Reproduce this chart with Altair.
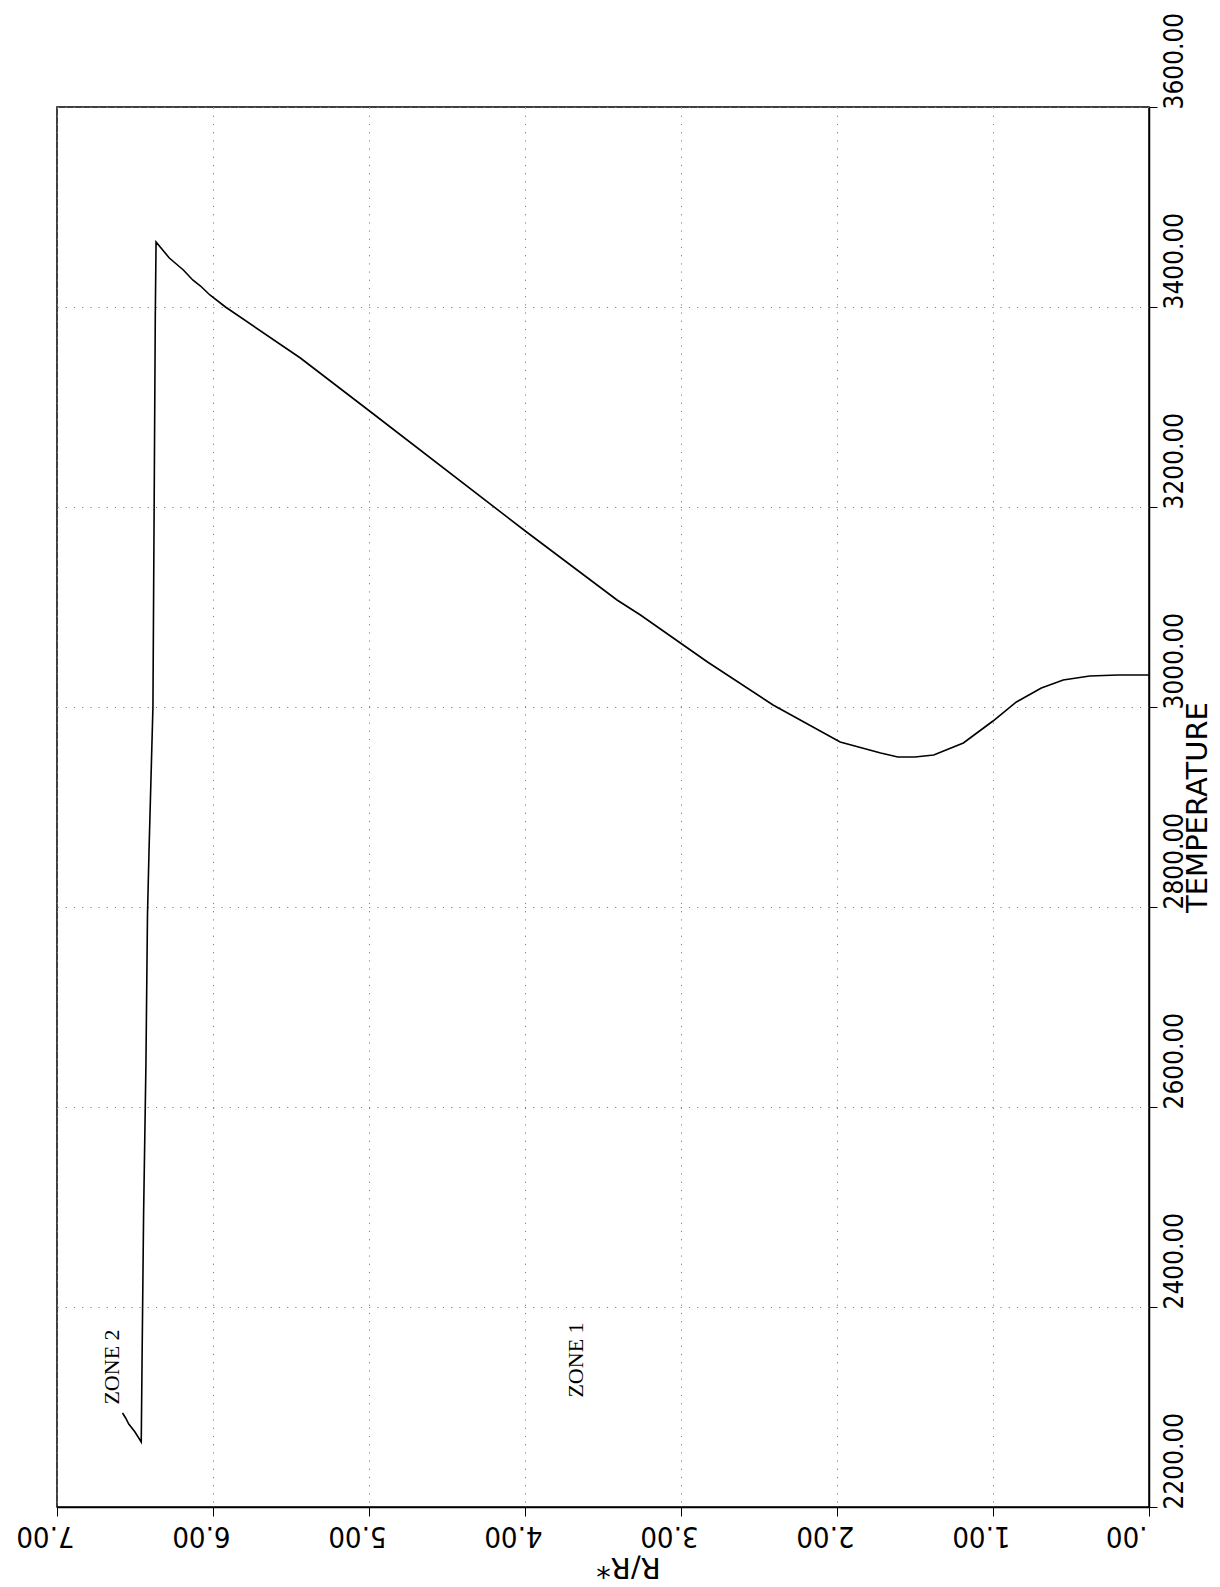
import altair as alt
import pandas as pd

# Temperature profile vs R/R*
r_vals = [0.00, 0.20, 0.38, 0.55, 0.69, 0.85, 1.00, 1.19, 1.38, 1.50, 1.61, 1.72,
          1.98, 2.41, 2.83, 3.26, 3.41, 3.99, 4.98, 5.44, 5.92, 6.02, 6.08, 6.13,
          6.19, 6.28, 6.365,
          6.37, 6.385, 6.41, 6.42, 6.43, 6.445, 6.455, 6.46,
          6.50, 6.54, 6.56, 6.58]
t_vals = [3032, 3032, 3031, 3027, 3019, 3005, 2986, 2964, 2952, 2950, 2950, 2954,
          2965, 3002, 3045, 3092, 3107, 3175, 3294, 3349, 3400, 3412, 3421, 3427,
          3437, 3449, 3465,
          3390, 3000, 2857, 2792, 2642, 2492, 2342, 2265,
          2275, 2283, 2289, 2294]

r_ticks = [0, 1, 2, 3, 4, 5, 6, 7]
t_ticks = [2200, 2400, 2600, 2800, 3000, 3200, 3400, 3600]

zone_labels = ["ZONE 2", "ZONE 1"]
zone_r = [6.65, 3.67]
zone_t = [2340, 2347]

df = pd.DataFrame({"r": r_vals, "t": t_vals, "i": list(range(len(r_vals)))})
zdf = pd.DataFrame({"r": zone_r, "t": zone_t, "label": zone_labels})

FONT = "DejaVu Sans Condensed, DejaVu Sans"
TFONT = "DejaVu Sans"

x_enc = alt.X(
    "r:Q",
    scale=alt.Scale(domain=[0, 7], reverse=True, nice=False, zero=False),
    axis=alt.Axis(
        values=r_ticks,
        labelExpr="datum.value == 0 ? '.00' : format(datum.value, '.2f')",
        labelAngle=180,
        labelAlign="left",
        labelBaseline="bottom",
        labelFont=FONT,
        labelFontSize=29,
        labelColor="black",
        labelPadding=4,
        labelFlush=False,
        labelOverlap=False,
        labelOffset={"condition": {"test": "datum.value == 0", "value": -2}, "value": 17},
        tickSize=9,
        tickColor="black",
        domainColor="black",
        domainWidth=1.5,
        grid=True,
        gridDash=[1.2, 7],
        gridColor="#808080",
        gridWidth=1,
        title="R/R*",
        titleAngle=180,
        titleFont=TFONT,
        titleFontSize=29,
        titleFontWeight="normal",
        titleColor="black",
        titleX=571,
        titleY=50,
        titleAlign="center",
        titleBaseline="alphabetic",
    ),
)

y_enc = alt.Y(
    "t:Q",
    scale=alt.Scale(domain=[2200, 3600], nice=False, zero=False),
    axis=alt.Axis(
        orient="right",
        values=t_ticks,
        format=".2f",
        labelAngle=270,
        labelAlign="left",
        labelBaseline="middle",
        labelFont=FONT,
        labelFontSize=26,
        labelColor="black",
        labelPadding=17,
        labelOffset=2,
        labelFlush=False,
        labelOverlap=False,
        tickSize=8,
        tickColor="black",
        domainColor="black",
        domainWidth=1.5,
        grid=True,
        gridDash=[1.2, 7],
        gridColor="#808080",
        gridWidth=1,
        title="TEMPERATURE",
        titleAngle=270,
        titleFont=TFONT,
        titleFontSize=29,
        titleFontWeight="normal",
        titleColor="black",
        titleX=57,
        titleY=700,
        titleAlign="center",
        titleBaseline="alphabetic",
    ),
)

line = alt.Chart(df).mark_line(color="black", strokeWidth=1.6).encode(
    x=x_enc, y=y_enc, order=alt.Order("i:Q")
)

zones = alt.Chart(zdf).mark_text(
    angle=270, font="Liberation Serif", fontSize=22, color="black"
).encode(x=alt.X("r:Q"), y=alt.Y("t:Q"), text="label:N")

chart = (
    alt.layer(line, zones)
    .properties(
        width=1092,
        height=1400,
        padding={"left": 49, "top": 99, "right": 63, "bottom": 78},
        autosize=alt.AutoSizeParams(type="none"),
        background="white",
    )
    .configure_view(stroke="black", strokeWidth=1.5)
)

chart.save("out.html", embed_options={"renderer": "svg", "actions": False})
